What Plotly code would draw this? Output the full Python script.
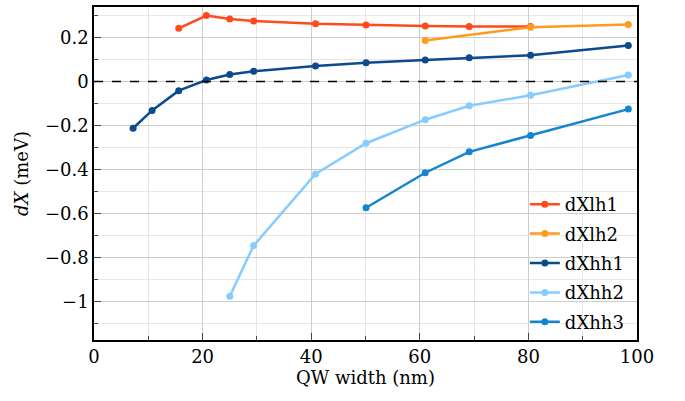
import plotly.graph_objects as go

# Data
x_lh1 = [15.6, 20.7, 25.0, 29.4, 40.8, 50.1, 61.0, 69.1, 80.4]
y_lh1 = [0.242, 0.300, 0.284, 0.275, 0.263, 0.257, 0.253, 0.250, 0.250]

x_lh2 = [61.0, 80.4, 98.4]
y_lh2 = [0.187, 0.247, 0.260]

x_hh1 = [7.2, 10.7, 15.6, 20.7, 25.0, 29.4, 40.8, 50.1, 61.0, 69.1, 80.4, 98.4]
y_hh1 = [-0.212, -0.131, -0.041, 0.007, 0.032, 0.047, 0.071, 0.086, 0.098, 0.108, 0.120, 0.164]

x_hh2 = [25.0, 29.4, 40.8, 50.1, 61.0, 69.1, 80.4, 98.4]
y_hh2 = [-0.975, -0.745, -0.420, -0.280, -0.173, -0.110, -0.062, 0.030]

x_hh3 = [50.1, 61.0, 69.1, 80.4, 98.4]
y_hh3 = [-0.573, -0.414, -0.319, -0.245, -0.125]

series = [
    ("dXlh1", x_lh1, y_lh1, "#FF4A1C"),
    ("dXlh2", x_lh2, y_lh2, "#FF9A1F"),
    ("dXhh1", x_hh1, y_hh1, "#0B4A8C"),
    ("dXhh2", x_hh2, y_hh2, "#88CCFF"),
    ("dXhh3", x_hh3, y_hh3, "#1485D0"),
]

x_ticks = [0, 20, 40, 60, 80, 100]
y_ticks = [-1.0, -0.8, -0.6, -0.4, -0.2, 0.0, 0.2]
y_ticktext = ["\u22121", "\u22120.8", "\u22120.6", "\u22120.4", "\u22120.2", "0", "0.2"]

FONT = "DejaVu Serif"

fig = go.Figure()
for name, xs, ys, col in series:
    fig.add_trace(go.Scatter(
        x=xs, y=ys, name=name, mode="lines+markers", legendgroup=name,
        line=dict(color=col, width=2.5),
        marker=dict(color=col, size=7),
    ))

fig.add_shape(type="line", xref="paper", x0=0, x1=1, yref="y", y0=0, y1=0,
              line=dict(color="black", width=1.5, dash="dash"), layer="above")

fig.update_layout(
    width=685, height=401,
    margin=dict(l=94, r=48, t=5, b=61),
    paper_bgcolor="white", plot_bgcolor="white",
    font=dict(family=FONT, size=18, color="black"),
    legend=dict(x=0.985, y=0.0, xanchor="right", yanchor="bottom",
                bgcolor="rgba(0,0,0,0)", font=dict(family=FONT, size=18), tracegroupgap=3),
    xaxis=dict(
        range=[0, 100], tickvals=x_ticks, ticks="inside", ticklen=7, tickwidth=1.2,
        showline=True, linecolor="black", linewidth=1.5, mirror=True,
        showgrid=True, gridcolor="#cccccc", gridwidth=1, zeroline=False,
        minor=dict(dtick=10, ticks="inside", ticklen=4, showgrid=True, gridcolor="#e6e6e6"),
        title=dict(text="QW width (nm)", standoff=2, font=dict(family=FONT, size=18)),
        tickfont=dict(family=FONT, size=18),
    ),
    yaxis=dict(
        range=[-1.174, 0.339], tickvals=y_ticks, ticktext=y_ticktext,
        ticks="inside", ticklen=7, tickwidth=1.2,
        showline=True, linecolor="black", linewidth=1.5, mirror=True,
        showgrid=True, gridcolor="#cccccc", gridwidth=1, zeroline=False,
        minor=dict(dtick=0.1, tick0=0, ticks="inside", ticklen=4, showgrid=True, gridcolor="#e6e6e6"),
        title=dict(text="<i>dX</i> (meV)", standoff=12, font=dict(family=FONT, size=18)),
        tickfont=dict(family=FONT, size=18),
    ),
)

fig.write_html("out.html")
